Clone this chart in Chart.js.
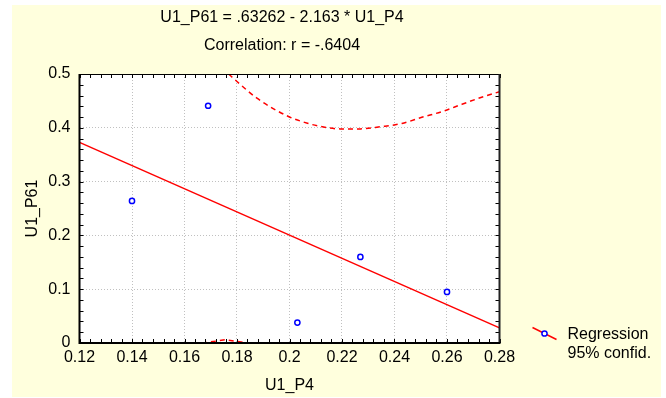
<!DOCTYPE html>
<html>
<head>
<meta charset="utf-8">
<script src="https://cdn.jsdelivr.net/npm/chart.js@4.4.1/dist/chart.umd.min.js"></script>
<style>
  html, body { margin: 0; padding: 0; background: #fff; }
  #panel { position: absolute; left: 12px; top: 5px; width: 649px; height: 392px; background: #FFFFDD; }
  canvas { display: block; }
</style>
</head>
<body>
<div id="panel"><canvas id="regChart" width="649" height="392"></canvas></div>
<script>
// Observed cases (U1_P4, U1_P61)
var obsX = [0.140, 0.169, 0.203, 0.227, 0.260];
var obsY = [0.264, 0.441, 0.038, 0.160, 0.095];

// Fitted line, read at the plot edges
var regX = [0.12, 0.28];
var regY = [0.373, 0.028];

// 95% confidence band
var upperX = [0.1768, 0.180, 0.1876, 0.1996, 0.2072, 0.2114, 0.2193, 0.227, 0.2346, 0.2428, 0.2504, 0.258, 0.2657, 0.2739, 0.280];
var upperY = [0.500, 0.486, 0.455, 0.421, 0.408, 0.403, 0.398, 0.398, 0.402, 0.408, 0.4195, 0.430, 0.4437, 0.458, 0.467];
var lowerX = [0.160, 0.167, 0.1755, 0.184, 0.191];
var lowerY = [-0.008, 0.000, 0.006, 0.000, -0.008];

// Axis ticks
var xTickValues = [0.12, 0.14, 0.16, 0.18, 0.20, 0.22, 0.24, 0.26, 0.28];
var xTickLabels = ['0.12', '0.14', '0.16', '0.18', '0.2', '0.22', '0.24', '0.26', '0.28'];
var yTickValues = [0, 0.1, 0.2, 0.3, 0.4, 0.5];
var yTickLabels = ['0', '0.1', '0.2', '0.3', '0.4', '0.5'];

function pts(xs, ys) {
    return xs.map(function (x, i) { return { x: x, y: ys[i] }; });
}

Chart.defaults.font.family = "'Liberation Sans', Arial, sans-serif";
Chart.defaults.font.size = 16;
Chart.defaults.color = '#000';

// white plot background, inward minor ticks and the frame
var framePlugin = {
    id: 'statFrame',
    beforeDraw: function (chart) {
        var a = chart.chartArea, ctx = chart.ctx;
        ctx.save();
        ctx.fillStyle = '#fff';
        ctx.fillRect(a.left, a.top, a.right - a.left, a.bottom - a.top);
        ctx.restore();
    },
    afterDatasetsDraw: function (chart) {
        var a = chart.chartArea, ctx = chart.ctx;
        var xs = chart.scales.x, ys = chart.scales.y;
        var i, p, len = 4;
        ctx.save();
        ctx.strokeStyle = '#000';
        ctx.lineWidth = 1;
        ctx.beginPath();
        for (i = 0; i <= 40; i++) {
            p = Math.round(xs.getPixelForValue(0.12 + i * 0.004)) + 0.5;
            ctx.moveTo(p, a.bottom); ctx.lineTo(p, a.bottom - len);
            ctx.moveTo(p, a.top);    ctx.lineTo(p, a.top + len);
        }
        for (i = 0; i <= 25; i++) {
            p = Math.round(ys.getPixelForValue(i * 0.02)) + 0.5;
            ctx.moveTo(a.left, p);  ctx.lineTo(a.left + len, p);
            ctx.moveTo(a.right, p); ctx.lineTo(a.right - len, p);
        }
        ctx.stroke();

        ctx.lineWidth = 1;
        ctx.strokeStyle = '#000';
        ctx.beginPath();
        ctx.moveTo(a.left, a.top + 0.5); ctx.lineTo(a.right, a.top + 0.5);
        ctx.stroke();
        ctx.lineWidth = 2;
        ctx.strokeStyle = '#222';
        ctx.beginPath();
        ctx.moveTo(a.right, a.top); ctx.lineTo(a.right, a.bottom);
        ctx.stroke();
        ctx.strokeStyle = '#000';
        ctx.beginPath();
        ctx.moveTo(a.left, a.top); ctx.lineTo(a.left, a.bottom); ctx.lineTo(a.right + 1, a.bottom);
        ctx.stroke();
        ctx.restore();
    },
    afterDraw: function (chart) {
        // Statistica style legend: line with marker, then the band label
        var a = chart.chartArea, ctx = chart.ctx;
        ctx.save();
        ctx.strokeStyle = '#FF0000';
        ctx.lineWidth = 1.5;
        ctx.beginPath();
        ctx.moveTo(a.right + 33, a.bottom - 15.5);
        ctx.lineTo(a.right + 57, a.bottom - 3.5);
        ctx.stroke();
        ctx.fillStyle = '#fff';
        ctx.strokeStyle = '#0000FF';
        ctx.beginPath();
        ctx.arc(a.right + 45, a.bottom - 9.5, 2.6, 0, Math.PI * 2);
        ctx.fill();
        ctx.stroke();
        ctx.fillStyle = '#000';
        ctx.font = "16px 'Liberation Sans', Arial, sans-serif";
        ctx.textBaseline = 'middle';
        ctx.textAlign = 'left';
        ctx.fillText('Regression', a.right + 68, a.bottom - 8.5);
        ctx.fillText('95% confid.', a.right + 68, a.bottom + 11);
        ctx.restore();
    }
};

var config = {
    type: 'scatter',
    data: {
        datasets: [{
            label: 'Cases',
            data: pts(obsX, obsY),
            showLine: false,
            pointStyle: 'circle',
            pointRadius: 2.6,
            pointBorderWidth: 1.5,
            pointBorderColor: '#0000FF',
            pointBackgroundColor: '#fff',
            order: 0
        }, {
            label: 'Regression',
            data: pts(regX, regY),
            showLine: true,
            borderColor: '#FF0000',
            borderWidth: 1.5,
            pointRadius: 0,
            order: 1
        }, {
            label: '95% confid.',
            data: pts(upperX, upperY),
            showLine: true,
            borderColor: '#FF0000',
            borderWidth: 1.5,
            borderDash: [5, 4],
            cubicInterpolationMode: 'monotone',
            pointRadius: 0,
            order: 2
        }, {
            label: '95% confid. (lower)',
            data: pts(lowerX, lowerY),
            showLine: true,
            borderColor: '#FF0000',
            borderWidth: 1.5,
            borderDash: [5, 4],
            pointRadius: 0,
            order: 3
        }]
    },
    options: {
        responsive: false,
        animation: false,
        events: [],
        layout: { padding: { left: 11, right: 120, top: 0, bottom: 0 } },
        plugins: {
            legend: { display: false },
            tooltip: { enabled: false },
            title: {
                display: true,
                text: 'U1_P61 = .63262 - 2.163 * U1_P4',
                font: { size: 16, weight: 'normal', lineHeight: 1.2 },
                color: '#000',
                padding: { top: 3.4, bottom: 0 }
            },
            subtitle: {
                display: true,
                text: 'Correlation: r = -.6404',
                font: { size: 16, lineHeight: 1.2 },
                color: '#000',
                padding: { top: 8.8, bottom: 18.4 }
            }
        },
        scales: {
            x: {
                type: 'linear',
                min: 0.12,
                max: 0.28,
                afterBuildTicks: function (scale) {
                    scale.ticks = xTickValues.map(function (v) { return { value: v }; });
                },
                afterFit: function (scale) { scale.height = 54; },
                ticks: {
                    padding: 5,
                    maxRotation: 0,
                    callback: function (v, i) { return xTickLabels[i]; }
                },
                grid: { color: '#C0C0C0', lineWidth: 1, drawTicks: false },
                border: { display: false, dash: [1, 2] },
                title: { display: true, text: 'U1_P4', padding: { top: 0, bottom: 1.4 } }
            },
            y: {
                type: 'linear',
                min: 0,
                max: 0.5,
                afterBuildTicks: function (scale) {
                    scale.ticks = yTickValues.map(function (v) { return { value: v }; });
                },
                afterFit: function (scale) { scale.width = 56.5; },
                ticks: {
                    padding: 9,
                    callback: function (v, i) { return yTickLabels[i]; }
                },
                grid: { color: '#C0C0C0', lineWidth: 1, drawTicks: false },
                border: { display: false, dash: [1, 2] },
                title: { display: true, text: 'U1_P61', padding: { top: 0, bottom: 0 } }
            },
            // empty right-hand axis that reserves room next to the legend
            yPad: {
                type: 'linear',
                position: 'right',
                display: true,
                afterFit: function (scale) { scale.width = 41.5; },
                ticks: { display: false },
                grid: { display: false, drawTicks: false },
                border: { display: false }
            }
        }
    },
    plugins: [framePlugin]
};

new Chart(document.getElementById('regChart'), config);
</script>
</body>
</html>
